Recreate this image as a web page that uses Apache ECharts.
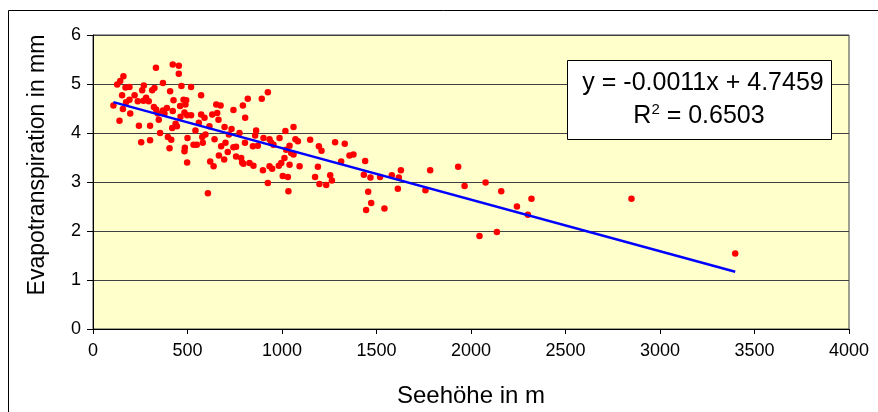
<!DOCTYPE html>
<html><head><meta charset="utf-8">
<script src="https://cdn.jsdelivr.net/npm/echarts@6/dist/echarts.min.js"></script>
<style>html,body{margin:0;padding:0;background:#fff}#c{width:878px;height:412px}</style>
</head><body><div id="c"></div>
<script>
const elevation = [108,128,144,161,140,154,158,172,193,175,193,197,220,237,243,255,260,269,267,281,295,302,302,313,325,322,333,334,348,343,355,370,370,378,391,396,408,405,414,419,422,426,422,437,444,454,454,461,463,468,479,484,486,484,489,493,498,500,498,519,519,532,542,549,560,572,572,578,581,590,595,608,616,620,631,638,643,652,657,664,666,675,678,694,696,701,713,719,733,743,743,757,757,775,784,789,793,796,805,804,819,828,846,849,858,863,872,893,899,902,925,925,934,934,943,948,955,987,983,996,1004,1013,1018,1022,1031,1034,1040,1040,1049,1061,1061,1071,1084,1093,1149,1195,1209,1190,1175,1198,1234,1255,1264,1281,1313,1332,1357,1378,1440,1433,1456,1468,1472,1445,1519,1542,1581,1618,1613,1629,1759,1784,1932,1966,2045,2137,2077,2160,2243,2320,2301,2849,3398];
const evapo = [4.56,4.99,5.06,5.16,4.25,4.77,4.49,4.93,4.94,4.63,4.68,4.40,4.77,4.65,4.15,3.81,4.87,4.97,4.66,4.72,4.65,4.15,3.85,4.87,4.92,4.53,5.33,4.48,4.27,4.40,4.00,5.02,4.46,4.40,4.51,3.92,4.85,3.69,3.86,4.10,5.40,4.67,4.45,4.19,4.14,5.37,5.21,4.55,4.33,4.96,4.68,4.42,3.70,3.63,4.58,4.67,3.40,3.90,4.36,4.94,4.36,3.76,4.05,3.76,4.21,4.77,4.38,3.92,3.80,4.31,3.97,2.77,4.14,3.42,4.38,3.32,3.87,4.58,4.41,4.27,3.54,4.56,3.73,3.46,4.12,3.80,3.61,3.97,4.08,4.47,3.71,3.52,3.72,4.00,3.49,3.40,4.56,3.37,4.31,3.80,4.70,3.39,3.73,3.33,3.95,4.05,3.74,4.70,3.24,3.90,4.83,2.98,3.87,3.32,3.80,3.27,3.76,3.90,3.33,3.39,3.12,3.49,4.04,3.66,3.10,2.81,3.74,3.35,3.59,4.12,3.56,3.87,3.83,3.32,3.86,3.73,3.64,3.31,3.10,2.96,2.94,3.14,3.03,3.81,3.42,3.78,3.54,3.56,3.43,3.15,2.80,3.09,2.57,2.43,3.10,2.46,3.14,3.09,2.86,3.24,2.83,3.24,3.31,2.92,1.90,1.98,2.99,2.81,2.50,2.66,2.33,2.66,1.54];
const trendX = [108, 3398];
const trendY = [4.63, 1.17];
const xTicks = [0,500,1000,1500,2000,2500,3000,3500,4000];
const yTicks = [0,1,2,3,4,5,6];
const xTitle = 'Seehöhe in m';
const yTitle = 'Evapotranspiration in mm';
const eqLine1 = 'y = -0.0011x + 4.7459';
const eqR = 'R';
const eqSup = '2';
const eqRest = ' = 0.6503';

const FF = '"Liberation Sans", Arial, sans-serif';
const points = elevation.map((x, i) => [x, evapo[i]]);
const trend = trendX.map((x, i) => [x, trendY[i]]);

const chart = echarts.init(document.getElementById('c'), null, {renderer: 'canvas'});
chart.setOption({
  animation: false,
  backgroundColor: '#ffffff',
  grid: {left: 93, top: 35, width: 756, height: 294, show: true, backgroundColor: '#FFFFCC', borderColor: '#404040', borderWidth: 1},
  xAxis: {
    type: 'value', min: xTicks[0], max: xTicks[xTicks.length-1], interval: xTicks[1]-xTicks[0],
    axisLine: {show: true, onZero: false, lineStyle: {color: '#000', width: 1}},
    axisTick: {show: true, length: 5, lineStyle: {color: '#000'}},
    axisLabel: {fontSize: 18, color: '#000', fontFamily: FF, margin: 13, formatter: v => String(v)},
    splitLine: {show: false}
  },
  yAxis: {
    type: 'value', min: yTicks[0], max: yTicks[yTicks.length-1], interval: 1,
    axisLine: {show: true, onZero: false, lineStyle: {color: '#000', width: 1}},
    axisTick: {show: true, length: 6, lineStyle: {color: '#000'}},
    axisLabel: {fontSize: 18, color: '#000', fontFamily: FF, margin: 12, formatter: v => String(v)},
    splitLine: {show: true, lineStyle: {color: '#404040', width: 1}}
  },
  series: [
    {type: 'scatter', data: points, symbol: 'circle', symbolSize: 6.5, itemStyle: {color: '#FF0000', opacity: 1}, z: 2},
    {type: 'line', data: trend, symbol: 'none', lineStyle: {color: '#0000FF', width: 2.5}, z: 3}
  ],
  graphic: [
    {type: 'rect', silent: true, z: 0, shape: {x: 8.5, y: 10.5, width: 900, height: 420}, style: {fill: 'none', stroke: '#000', lineWidth: 1}},
    {type: 'rect', z: 10, shape: {x: 567.5, y: 60.5, width: 264, height: 79}, style: {fill: '#fff', stroke: '#000', lineWidth: 1}},
    {type: 'text', z: 11, x: 703, y: 83, style: {text: eqLine1, fill: '#000', font: '25px ' + FF, align: 'center', verticalAlign: 'middle'}},
    {type: 'text', z: 11, x: 699, y: 116, style: {
      text: '{a|' + eqR + '}{s|' + eqSup + '}{a|' + eqRest + '}',
      align: 'center', verticalAlign: 'middle',
      rich: {
        a: {fontSize: 25, fontFamily: FF, fill: '#000', color: '#000'},
        s: {fontSize: 15, fontFamily: FF, fill: '#000', color: '#000', verticalAlign: 'top', padding: [0, 0, 12, 0]}
      }
    }},
    {type: 'text', z: 11, x: 471, y: 396, style: {text: xTitle, fill: '#000', font: '24px ' + FF, align: 'center', verticalAlign: 'middle'}},
    {type: 'text', z: 11, x: 38, y: 165, rotation: Math.PI/2, style: {text: yTitle, fill: '#000', font: '23px ' + FF, align: 'center', verticalAlign: 'middle'}}
  ]
});
</script>
</body></html>
